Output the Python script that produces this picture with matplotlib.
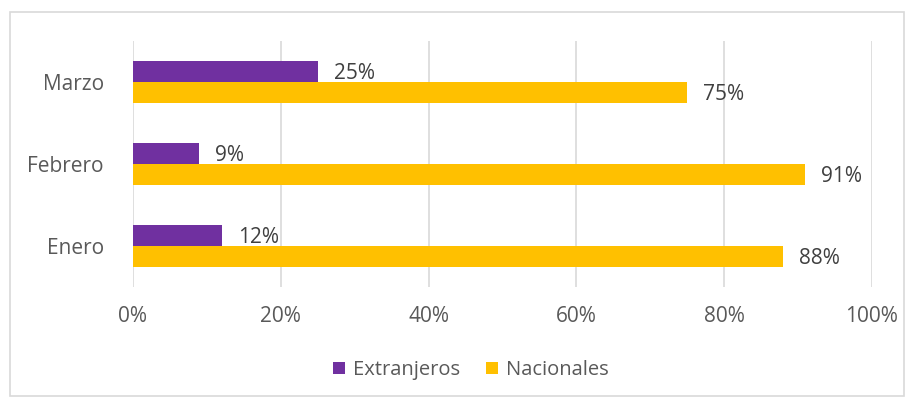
"""Extranjeros vs Nacionales por mes (barras horizontales)."""

import matplotlib
matplotlib.use("Agg")
import matplotlib.pyplot as plt
import numpy as np
from matplotlib.patches import Rectangle
from matplotlib.ticker import FuncFormatter

meses = ["Enero", "Febrero", "Marzo"]
extranjeros = [0.12, 0.09, 0.25]
nacionales = [0.88, 0.91, 0.75]

PURPLE = "#7030A0"
YELLOW = "#FFC000"
TEXT = "#595959"
LABEL = "#404040"
GRID = "#D9D9D9"

plt.rcParams["font.family"] = ["Open Sans", "DejaVu Sans"]

fig = plt.figure(figsize=(9.14, 4.0), dpi=100)
ax = fig.add_axes([0.1455, 0.2825, 0.8085, 0.615])

y = np.arange(len(meses))
h = 0.26
ax.barh(y + h / 2, extranjeros, height=h, color=PURPLE, label="Extranjeros", zorder=3)
ax.barh(y - h / 2, nacionales, height=h, color=YELLOW, label="Nacionales", zorder=3)

# etiquetas de datos a la derecha de cada barra
for yi, v in zip(y, extranjeros):
    ax.annotate(f"{v:.0%}", (v, yi + h / 2), xytext=(11.5, -1.5), textcoords="offset points",
                va="center", ha="left", fontsize=15, color=LABEL)
for yi, v in zip(y, nacionales):
    ax.annotate(f"{v:.0%}", (v, yi - h / 2), xytext=(11.5, -1), textcoords="offset points",
                va="center", ha="left", fontsize=15, color=LABEL)

ax.set_xlim(0, 1)
ax.set_ylim(-0.5, len(meses) - 0.5)
ax.set_xticks(np.linspace(0, 1, 6))
ax.xaxis.set_major_formatter(FuncFormatter(lambda v, _: f"{v:.0%}"))
ax.set_yticks(y)
ax.set_yticklabels(meses)
ax.tick_params(axis="both", length=0, labelsize=15, labelcolor=TEXT)
ax.tick_params(axis="x", pad=14)
ax.tick_params(axis="y", pad=21)
ax.grid(axis="x", color=GRID, linewidth=1.2, zorder=0)
for s in ax.spines.values():
    s.set_visible(False)

ax.legend(loc="center", bbox_to_anchor=(0.515, 0.075), bbox_transform=fig.transFigure,
          ncol=2, frameon=False, fontsize=14.5, labelcolor=TEXT,
          handlelength=0.6, handleheight=0.6, columnspacing=1.3, handletextpad=0.4)

fig.patches.append(Rectangle((0.011, 0.01), 0.978, 0.96, transform=fig.transFigure,
                             fill=False, edgecolor=GRID, linewidth=1.2))

fig.savefig("out.png", dpi=100)
plt.close(fig)
